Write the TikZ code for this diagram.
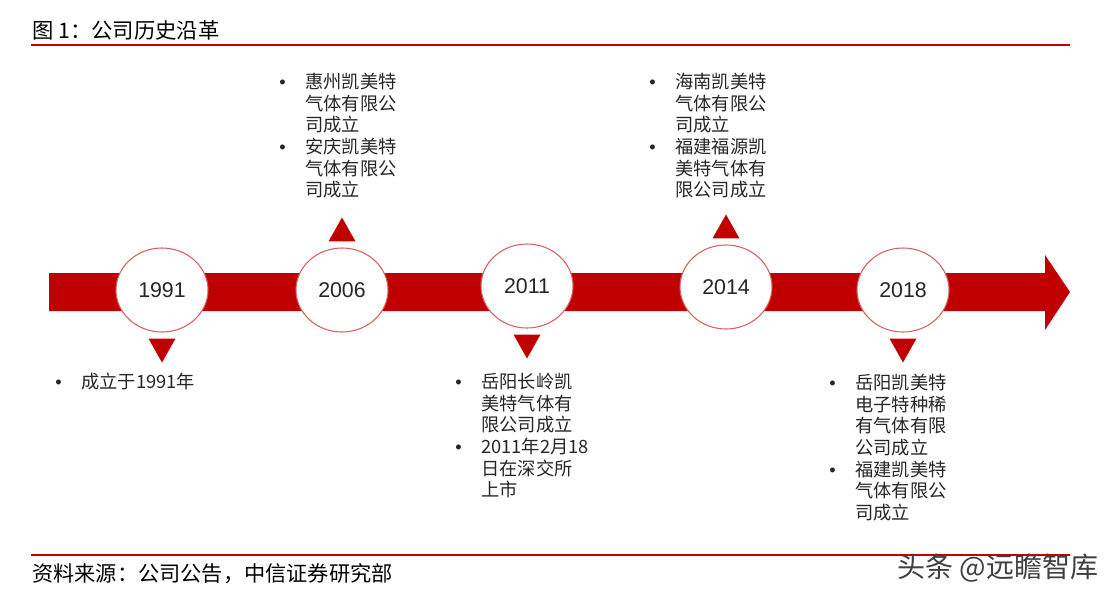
\documentclass[tikz,border=0pt]{standalone}
\usepackage{fontspec}
\setmainfont{Noto Sans CJK SC}
\newfontfamily\yearfont{Liberation Sans}
\usepackage{tikz}
\usetikzlibrary{shapes.geometric, positioning, calc}
\definecolor{bandred}{RGB}{192,0,0}
\definecolor{ringred}{RGB}{214,96,96}
\definecolor{txtgray}{RGB}{38,38,38}
\newcommand{\bul}{\makebox[19.5pt][l]{\yearfont\textbullet}}
\newcommand{\ind}{\hspace*{19.5pt}}
\tikzset{
    yearnode/.style={ellipse, draw=ringred, line width=0.8pt, fill=white, minimum width=69pt, minimum height=63pt, inner sep=0pt, text=txtgray, font=\yearfont\fontsize{16}{16}\selectfont},
    eventtext/.style={anchor=north west, align=left, inner sep=0pt, text=txtgray, font=\fontsize{13.7}{16.2}\selectfont},
    marker/.style={fill=bandred}
}

\begin{document}
\begin{tikzpicture}[x=0.75pt,y=-0.75pt]
\useasboundingbox (0,0) rectangle (1120,601);

\node[anchor=west, inner sep=0pt, font=\fontsize{16}{18}\selectfont] (title) at (32,30) {图 1：公司历史沿革};
\draw[bandred, line width=1.5pt] (31,45) -- (1070,45);

\fill[bandred] (49,273) -- (1045,273) -- (1045,255) -- (1070,292) -- (1045,330) -- (1045,311) -- (49,311) -- cycle;

\foreach \yr/\x/\y in {1991/162/290, 2006/342/290, 2011/527/286, 2014/726/287, 2018/903/290}
    \node[yearnode] (y\yr) at (\x,\y) {\yr};

\foreach \yr in {1991, 2011, 2018}
    \fill[marker] ($(y\yr.south)+(-13.5,6)$) -- ++(27,0) -- ++(-13.5,24) -- cycle;
\foreach \yr in {2006, 2014}
    \fill[marker] ($(y\yr.north)+(-13.5,-6)$) -- ++(27,0) -- ++(-13.5,-24) -- cycle;

\node[eventtext] (ev2006) at (279,73) {\bul 惠州凯美特\\ \ind 气体有限公\\ \ind 司成立\\ \bul 安庆凯美特\\ \ind 气体有限公\\ \ind 司成立};
\node[eventtext] (ev2014) at (649,73) {\bul 海南凯美特\\ \ind 气体有限公\\ \ind 司成立\\ \bul 福建福源凯\\ \ind 美特气体有\\ \ind 限公司成立};
\node[eventtext] (ev1991) at (55,373) {\bul 成立于1991年};
\node[eventtext] (ev2011) at (455,373) {\bul 岳阳长岭凯\\ \ind 美特气体有\\ \ind 限公司成立\\ \bul 2011年2月18\\ \ind 日在深交所\\ \ind 上市};
\node[eventtext] (ev2018) at (829,374) {\bul 岳阳凯美特\\ \ind 电子特种稀\\ \ind 有气体有限\\ \ind 公司成立\\ \bul 福建凯美特\\ \ind 气体有限公\\ \ind 司成立};

\draw[bandred, line width=1.5pt] (31,555) -- (1070,555);
\node[anchor=west, inner sep=0pt, font=\fontsize{15.9}{18}\selectfont] (source) at (32,574) {资料来源：公司公告，中信证券研究部};
\node[anchor=west, inner sep=0pt, text=black!75, font=\fontsize{21}{24}\selectfont] (mark) at (897,568) {头条 @远瞻智库};
\end{tikzpicture}
\end{document}
